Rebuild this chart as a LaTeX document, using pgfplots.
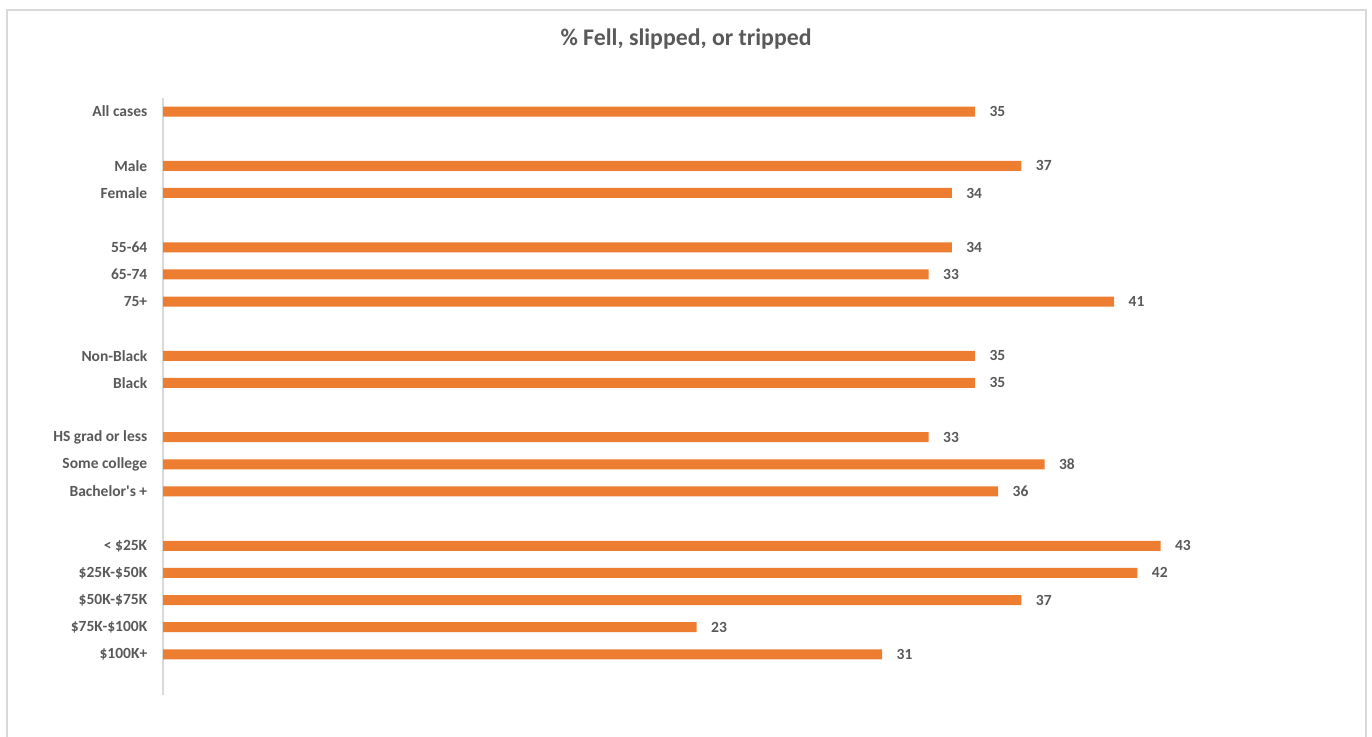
\documentclass[border=0pt]{standalone}
\usepackage{pgfplots}
\pgfplotsset{compat=1.18}
\usepackage{fontspec}
\setmainfont{Carlito}
\definecolor{barorange}{HTML}{ED7D31}
\definecolor{txtgray}{HTML}{595959}
\definecolor{framegray}{HTML}{D9D9D9}

\begin{document}
\begin{tikzpicture}
\path[use as bounding box] (0pt,0pt) rectangle (1372pt,736pt);
% chart frame
\draw[framegray, line width=1.5pt] (7pt,-5pt) -- (7pt,726pt) -- (1366pt,726pt) -- (1366pt,-5pt);
\node[txtgray, font=\bfseries\fontsize{23.8}{28}\selectfont] at (686pt,697pt) {\% Fell, slipped, or tripped};
\begin{axis}[
    at={(743pt,339.5pt)}, anchor=center,
    scale only axis, width=1160pt, height=597pt,
    xbar, bar width=10pt,
    xmin=0, xmax=50,
    ymin=-0.5, ymax=21.5, y dir=reverse,
    axis x line=none,
    axis y line*=left,
    y axis line style={framegray, line width=1.5pt},
    ytick={0,2,3,5,6,7,9,10,12,13,14,16,17,18,19,20},
    yticklabels={All cases, Male, Female, 55-64, 65-74, 75+, Non-Black, Black,
        HS grad or less, Some college, Bachelor\textquotesingle s +, < \$25K, \$25K-\$50K,
        \$50K-\$75K, \$75K-\$100K, \$100K+},
    ytick style={draw=none},
    yticklabel style={font=\bfseries\fontsize{15.5}{18}\selectfont, text=txtgray, xshift=-8pt},
    /pgf/number format/assume math mode=true,
    nodes near coords,
    nodes near coords style={font=\bfseries\fontsize{15.5}{18}\selectfont, text=txtgray, xshift=11pt},
]
\addplot[fill=barorange, draw=none] coordinates {
    (35,0) (37,2) (34,3) (34,5) (33,6) (41,7) (35,9) (35,10)
    (33,12) (38,13) (36,14) (43,16) (42,17) (37,18) (23,19) (31,20)
};
\end{axis}
\end{tikzpicture}
\end{document}
